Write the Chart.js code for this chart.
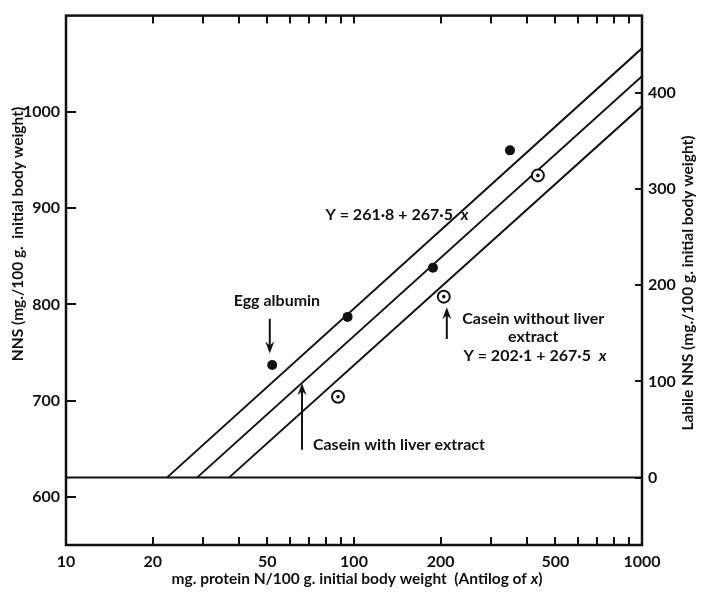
<!DOCTYPE html>
<html>
<head>
<meta charset="utf-8">
<script src="https://cdn.jsdelivr.net/npm/chart.js@4.4.0/dist/chart.umd.min.js"></script>
<style>
  html, body { margin: 0; padding: 0; background: #fff; }
  #wrap { width: 704px; height: 595px; }
</style>
</head>
<body>
<div id="wrap"><canvas id="c" width="704" height="595"></canvas></div>
<script>
// values
const filledX = [52, 95, 188, 348];
const filledY = [737, 787, 838, 960];
const openX = [88, 205, 435];
const openY = [704, 808, 934];

const upperLineX = [22.4, 1000];
const upperLineY = [620, 1066];
const middleLineX = [28.5, 1000];
const middleLineY = [620, 1037];
const lowerLineX = [36.8, 1000];
const lowerLineY = [620, 1006];
const baseLineX = [10, 1000];
const baseLineY = [620, 620];

const xTickValues = [10, 20, 30, 40, 50, 60, 70, 80, 90, 100, 200, 300, 400, 500, 600, 700, 800, 900, 1000];
const xTickLabels = ['10', '20', '', '', '50', '', '', '', '', '100', '200', '', '', '500', '', '', '', '', '1000'];
const leftTicks = [600, 700, 800, 900, 1000];
const rightTicks = [0, 100, 200, 300, 400];

// annotations in data units: [x, yFrom, yTo]
const arrows = [[51, 785, 749], [66, 649, 718], [210, 764, 797]];
const notes = [
  { text: 'Egg albumin', x: 54, y: 804, align: 'center' },
  { text: 'Casein with liver extract', x: 72, y: 654, align: 'left' },
  { text: 'Casein without liver', x: 419, y: 785, align: 'center' },
  { text: 'extract', x: 419, y: 766, align: 'center' }
];
const equations = [
  { text: 'Y = 261·8 + 267·5  ', x: 141, y: 893 },
  { text: 'Y = 202·1 + 267·5  ', x: 425, y: 746 }
];

const FONT = 'Lato, "Open Sans", sans-serif';
const toPts = (xs, ys) => xs.map((x, i) => ({ x: x, y: ys[i] }));

const lineSet = (xs, ys) => ({
  data: toPts(xs, ys), showLine: true, borderColor: '#111', borderWidth: 2,
  pointRadius: 0, fill: false, tension: 0
});

const decorations = {
  id: 'decorations',
  afterDraw(chart) {
    const ctx = chart.ctx;
    const a = chart.chartArea;
    const sx = chart.scales.x, sy = chart.scales.y, sy2 = chart.scales.y2;
    ctx.save();
    ctx.strokeStyle = '#111';
    ctx.fillStyle = '#111';

    // frame
    ctx.lineWidth = 2.5;
    ctx.strokeRect(a.left, a.top, a.right - a.left, a.bottom - a.top);

    // x ticks, inward at bottom and top
    ctx.lineWidth = 2;
    xTickValues.slice(1, -1).forEach(v => {
      const px = Math.round(sx.getPixelForValue(v));
      ctx.beginPath();
      ctx.moveTo(px, a.bottom); ctx.lineTo(px, a.bottom - 8);
      ctx.moveTo(px, a.top); ctx.lineTo(px, a.top + 8);
      ctx.stroke();
    });
    leftTicks.forEach(v => {
      const py = Math.round(sy.getPixelForValue(v));
      ctx.beginPath(); ctx.moveTo(a.left, py); ctx.lineTo(a.left + 10, py); ctx.stroke();
    });
    rightTicks.forEach(v => {
      const py = Math.round(sy2.getPixelForValue(v));
      ctx.beginPath(); ctx.moveTo(a.right, py); ctx.lineTo(a.right - 7, py); ctx.stroke();
    });

    // arrows
    ctx.lineWidth = 2;
    arrows.forEach(([x, y0, y1]) => {
      const px = sx.getPixelForValue(x);
      const p0 = sy.getPixelForValue(y0), p1 = sy.getPixelForValue(y1);
      const dir = p1 > p0 ? 1 : -1;
      ctx.beginPath(); ctx.moveTo(px, p0); ctx.lineTo(px, p1 - dir * 4); ctx.stroke();
      ctx.beginPath();
      ctx.moveTo(px, p1);
      ctx.lineTo(px - 4.5, p1 - dir * 12);
      ctx.lineTo(px, p1 - dir * 8);
      ctx.lineTo(px + 4.5, p1 - dir * 12);
      ctx.closePath(); ctx.fill();
    });

    // text notes
    const NF = '16px ' + FONT;
    ctx.font = 'bold ' + NF;
    ctx.textBaseline = 'middle';
    notes.forEach(n => {
      ctx.textAlign = n.align;
      ctx.fillText(n.text, sx.getPixelForValue(n.x), sy.getPixelForValue(n.y));
    });
    equations.forEach(e => {
      ctx.font = 'bold ' + NF;
      const w1 = ctx.measureText(e.text).width;
      ctx.font = 'italic bold ' + NF;
      const w2 = ctx.measureText('x').width;
      const left = sx.getPixelForValue(e.x) - (w1 + w2) / 2;
      const py = sy.getPixelForValue(e.y);
      ctx.textAlign = 'left';
      ctx.font = 'bold ' + NF;
      ctx.fillText(e.text, left, py);
      ctx.font = 'italic bold ' + NF;
      ctx.fillText('x', left + w1, py);
    });

    // axis titles
    const TF = '15.5px ' + FONT;
    ctx.font = 'bold ' + TF;
    ctx.textAlign = 'left';
    const xt1 = 'mg. protein N/100 g. initial body weight  (Antilog of ';
    const wx1 = ctx.measureText(xt1).width;
    ctx.font = 'italic bold ' + TF;
    const wx2 = ctx.measureText('x').width;
    ctx.font = 'bold ' + TF;
    const wx3 = ctx.measureText(')').width;
    let tx = (a.left + a.right) / 2 - (wx1 + wx2 + wx3) / 2 + 3;
    ctx.fillText(xt1, tx, 579);
    ctx.font = 'italic bold ' + TF;
    ctx.fillText('x', tx + wx1, 579);
    ctx.font = 'bold ' + TF;
    ctx.fillText(')', tx + wx1 + wx2, 579);

    ctx.textAlign = 'center';
    ctx.save();
    ctx.translate(18, 234);
    ctx.rotate(-Math.PI / 2);
    ctx.fillText('NNS (mg./100 g.  initial body weight)', 0, 0);
    ctx.restore();
    ctx.save();
    ctx.translate(688, 283);
    ctx.rotate(-Math.PI / 2);
    ctx.fillText('Labile NNS (mg./100 g. initial body weight)', 0, 0);
    ctx.restore();

    ctx.restore();
  }
};

new Chart(document.getElementById('c').getContext('2d'), {
  type: 'scatter',
  data: {
    datasets: [
      { data: toPts(openX, openY), pointRadius: 1.8, backgroundColor: '#111', borderWidth: 0 },
      { data: toPts(openX, openY), pointRadius: 6, backgroundColor: '#fff', borderColor: '#111', borderWidth: 2 },
      { data: toPts(filledX, filledY), pointRadius: 5, backgroundColor: '#111', borderWidth: 0 },
      lineSet(baseLineX, baseLineY),
      lineSet(upperLineX, upperLineY),
      lineSet(middleLineX, middleLineY),
      lineSet(lowerLineX, lowerLineY)
    ]
  },
  options: {
    responsive: false,
    animation: false,
    devicePixelRatio: 1,
    layout: { padding: { top: 10, left: 0, right: 0, bottom: 0 } },
    plugins: { legend: { display: false }, tooltip: { enabled: false } },
    scales: {
      x: {
        type: 'logarithmic', position: 'bottom', min: 10, max: 1000,
        grid: { display: false, drawTicks: false }, border: { display: false },
        afterBuildTicks: s => { s.ticks = xTickValues.map(v => ({ value: v })); },
        afterFit: s => { s.height = 50; },
        ticks: {
          autoSkip: false, maxRotation: 0, padding: 7, color: '#111',
          font: { family: FONT, size: 16, weight: 'bold' },
          callback: (v) => xTickLabels[xTickValues.indexOf(v)] || ''
        }
      },
      y: {
        type: 'linear', position: 'left', min: 550, max: 1100,
        grid: { display: false, drawTicks: false }, border: { display: false },
        afterBuildTicks: s => { s.ticks = leftTicks.map(v => ({ value: v })); },
        afterFit: s => { s.width = 66; },
        ticks: { padding: 6, color: '#111', font: { family: FONT, size: 16, weight: 'bold' }, callback: v => String(v) }
      },
      y2: {
        type: 'linear', position: 'right', min: -70, max: 480,
        grid: { display: false, drawTicks: false }, border: { display: false },
        afterBuildTicks: s => { s.ticks = rightTicks.map(v => ({ value: v })); },
        afterFit: s => { s.width = 62; },
        ticks: { padding: 6, color: '#111', font: { family: FONT, size: 16, weight: 'bold' }, callback: v => String(v) }
      }
    }
  },
  plugins: [decorations]
});
</script>
</body>
</html>
